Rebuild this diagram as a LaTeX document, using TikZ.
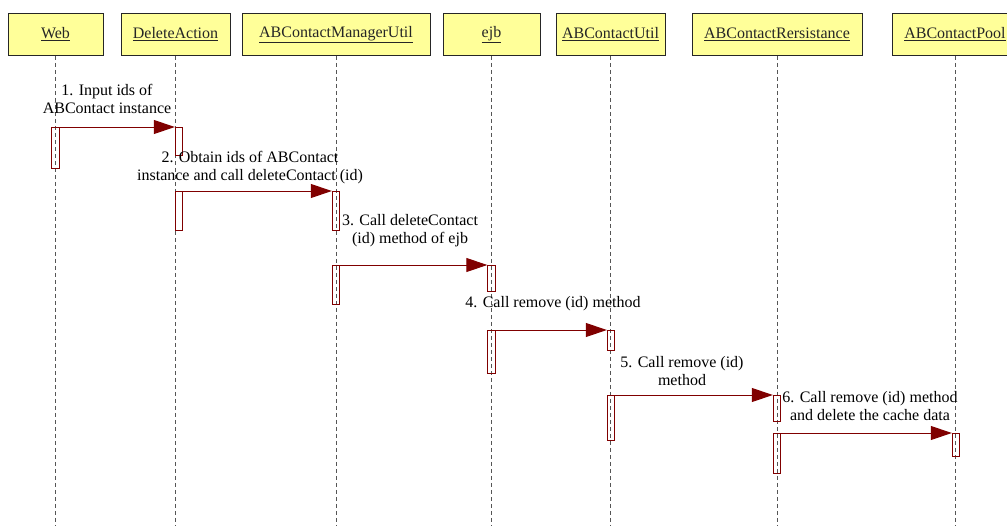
\documentclass[tikz,border=0pt]{standalone}
\usepackage{fontspec}
\setmainfont{Liberation Serif}
\usetikzlibrary{arrows.meta}
\definecolor{headfill}{HTML}{FFFF99}
\definecolor{msgred}{HTML}{800000}
\definecolor{lifegray}{HTML}{555555}
\begin{document}
\begin{tikzpicture}[x=1pt,y=-1pt,
  head/.style={draw=black!85, fill=headfill, line width=0.9pt, minimum height=42pt, inner sep=0pt, text=black!85, font=\fontsize{16}{18}\selectfont},
  life/.style={draw=lifegray, line width=0.9pt, dash pattern=on 4pt off 3pt},
  actbar/.style={draw=msgred, line width=0.9pt, minimum width=7.5pt, inner sep=0pt, anchor=north},
  msg/.style={draw=msgred, line width=1pt, -{Triangle[length=21pt,width=14pt]}},
  lbl/.style={align=center, inner sep=0pt, font=\fontsize{16}{18.5}\selectfont}]
\useasboundingbox (0,0) rectangle (1007,525);
\coordinate (bottom) at (0,525);
% headers
\node[head, minimum width=95pt]  (web) at (55.5,34.5) {\underline{Web}};
\node[head, minimum width=109pt] (da)  at (175.5,34.5) {\underline{DeleteAction}};
\node[head, minimum width=188pt] (amu) at (336,34.5) {\underline{ABContactManagerUtil}};
\node[head, minimum width=97pt]  (ejb) at (491.5,34.5) {\underline{ejb}};
\node[head, minimum width=109pt] (acu) at (610.5,34.5) {\underline{ABContactUtil}};
\node[head, minimum width=170pt] (abr) at (777,34.5) {\underline{ABContactRersistance}};
\node[head, minimum width=126pt] (pool) at (955,34.5) {\underline{ABContactPool}};
% lifelines
\foreach \n in {web,da,amu,ejb,acu,abr,pool}
  \draw[life] (\n.south) -- (\n.south |- bottom);
% activation bars
\node[actbar, minimum height=41pt] (b1)  at (55.5,127) {};
\node[actbar, minimum height=28pt] (b2)  at (179,127) {};
\node[actbar, minimum height=39pt] (b3)  at (179,191) {};
\node[actbar, minimum height=39pt] (b4)  at (336,191) {};
\node[actbar, minimum height=39pt] (b5)  at (336,265) {};
\node[actbar, minimum height=26pt] (b6)  at (491.5,265) {};
\node[actbar, minimum height=43pt] (b7)  at (491.5,330) {};
\node[actbar, minimum height=20pt] (b8)  at (611,330) {};
\node[actbar, minimum height=45pt] (b9)  at (611,395) {};
\node[actbar, minimum height=26pt] (b10) at (777,395) {};
\node[actbar, minimum height=40pt] (b11) at (777,433) {};
\node[actbar, minimum height=23pt] (b12) at (956,433) {};
% messages
\draw[msg] (b1.north east) -- (b2.north west);
\draw[msg] (b3.north east) -- (b4.north west);
\draw[msg] (b5.north east) -- (b6.north west);
\draw[msg] (b7.north east) -- (b8.north west);
\draw[msg] (b9.north east) -- (b10.north west);
\draw[msg] (b11.north east) -- (b12.north west);
% labels
\node[lbl] (l1) at (107,99) {1. Input ids of\\ABContact instance};
\node[lbl] (l2) at (250,167.5) {2. Obtain ids of ABContact\\instance and call deleteContact (id)};
\node[lbl] (l3) at (410,230.5) {3. Call deleteContact\\(id) method of ejb};
\node[lbl] (l4) at (553,304) {4. Call remove (id) method};
\node[lbl] (l5) at (682,371) {5. Call remove (id)\\method};
\node[lbl] (l6) at (870,406) {6. Call remove (id) method\\and delete the cache data};
\end{tikzpicture}
\end{document}
